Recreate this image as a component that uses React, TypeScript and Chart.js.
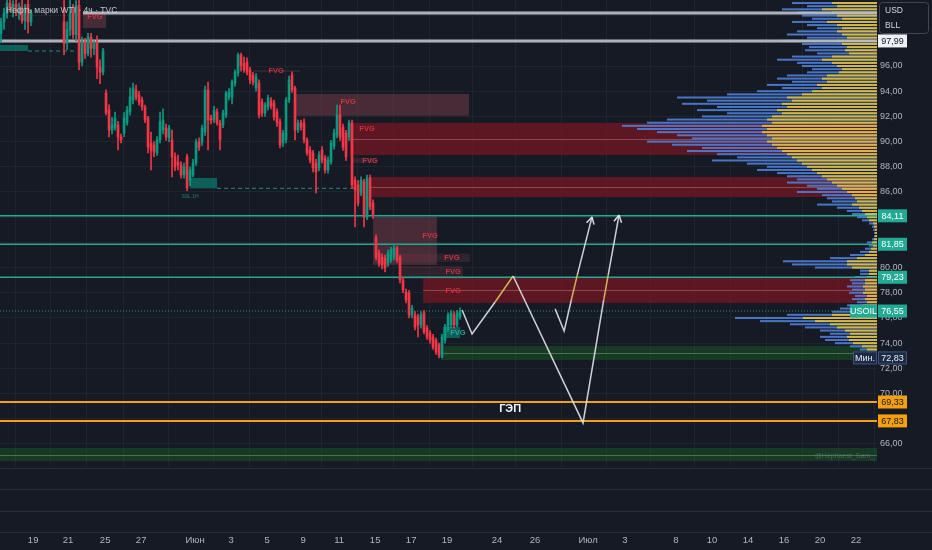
import React, { useEffect, useRef } from "react";
import { Chart, registerables } from "chart.js";
Chart.register(...registerables);

const TITLE = "Нефть марки WTI · 4ч · TVC";
const BG = "#161a25";
const UP = "#089981";
const DOWN = "#f23645";
const TEAL = "#22ab94";
const ORANGE = "#f5a00f";
const WHITE_LINE = "#f4f5f8";
const X_MIN = -0.35;
const X_MAX = 292;
const Y_MIN = 64.25;
const Y_MAX = 101.24;

// 4h candles [open, high, low, close]; null = no bar
const candles: ([number, number, number, number] | null)[] = [
  [98.6, 99.8, 97.9, 99.5], [99.5, 100.6, 98.9, 100.2], [100.2, 101.5, 99.8, 101.0], [101.0, 101.6, 100.3, 100.6],
  [100.6, 101.2, 99.9, 100.9], [100.9, 101.6, 100.0, 100.3], [100.3, 101.0, 99.7, 100.5], [100.5, 101.4, 99.4, 99.6],
  [99.6, 100.9, 98.9, 100.7], [100.9, 101.4, 98.6, 99.5], [99.5, 100.5, 99.2, 100.2],
  null, null, null, null, null, null, null, null, null, null,
  [99.5, 101.3, 96.9, 97.8], [97.8, 99.5, 97.3, 98.9], [98.9, 101.3, 98.4, 100.2], [100.2, 100.9, 98.2, 98.5],
  [98.5, 101.2, 98.0, 100.8], [100.8, 101.3, 95.7, 96.3], [96.3, 98.3, 96.0, 97.9], [97.9, 98.2, 96.6, 97.0],
  [97.0, 98.6, 96.8, 98.3], [98.3, 98.6, 96.7, 97.4], [97.4, 98.0, 96.9, 97.8], [97.8, 98.4, 95.0, 95.9],
  [95.9, 96.5, 94.6, 95.5], [95.5, 97.4, 95.3, 97.2],
  [93.86, 94.1, 92.11, 92.27], [92.51, 92.91, 90.37, 90.92], [90.92, 91.9, 90.6, 91.32], [91.08, 92.35, 90.9, 91.87],
  [91.32, 91.6, 89.33, 90.37], [90.37, 90.6, 89.9, 90.13], [90.68, 92.3, 90.4, 91.87], [91.48, 92.8, 91.3, 92.51],
  [92.35, 94.26, 92.1, 93.54], [93.3, 94.65, 93.0, 94.26], [94.1, 94.49, 93.3, 93.54], [93.7, 94.0, 92.9, 93.14],
  [93.3, 93.54, 92.5, 92.75], [92.75, 92.9, 91.5, 91.71], [91.87, 92.0, 89.1, 89.57], [89.89, 90.76, 87.75, 89.33],
  [89.73, 90.0, 88.8, 89.18], [89.1, 90.4, 88.9, 90.13], [90.13, 92.35, 89.9, 91.56], [90.92, 92.6, 90.6, 91.71],
  [91.08, 91.4, 90.1, 90.37], [90.29, 91.3, 90.0, 91.08], [90.13, 90.92, 87.19, 88.78], [88.78, 89.1, 87.7, 87.99],
  [88.38, 88.94, 87.75, 88.14], [88.14, 88.4, 87.1, 87.35], [87.35, 88.3, 87.1, 87.99], [88.78, 89.0, 86.1, 86.32],
  [86.95, 88.0, 86.5, 87.75], [87.35, 88.6, 87.2, 88.3], [88.3, 90.2, 88.1, 89.97], [89.97, 90.3, 89.3, 89.57],
  [89.97, 91.32, 89.7, 91.08], [90.76, 94.4, 90.5, 94.1], [94.1, 94.73, 89.33, 91.71], [91.87, 92.1, 91.4, 91.71],
  [91.71, 92.8, 91.5, 92.51], [92.35, 92.6, 91.3, 91.48], [91.48, 91.7, 89.33, 90.13], [91.32, 92.5, 91.1, 92.27],
  [92.11, 94.0, 91.9, 93.86], [93.54, 94.2, 93.3, 93.94], [93.54, 94.9, 93.0, 94.73], [94.65, 95.7, 94.4, 95.53],
  [95.45, 97.03, 95.2, 96.87], [96.87, 97.03, 95.6, 96.0], [96.2, 96.7, 95.5, 95.7], [96.3, 96.64, 95.3, 95.5],
  [95.68, 95.9, 94.6, 94.89], [95.29, 95.5, 94.5, 94.73], [94.26, 95.4, 94.0, 95.13], [94.65, 94.9, 91.87, 92.11],
  [93.14, 93.4, 92.0, 92.27], [92.27, 93.1, 92.0, 92.91], [92.75, 93.7, 92.5, 93.46], [93.22, 93.5, 92.6, 92.83],
  [93.06, 93.3, 91.7, 91.95], [92.35, 92.6, 91.2, 91.48], [91.56, 91.8, 89.5, 89.73], [89.89, 90.9, 89.6, 90.68],
  [90.13, 93.5, 89.9, 93.3], [93.3, 95.2, 93.1, 94.89], [95.29, 95.53, 93.9, 94.1], [94.26, 94.4, 90.13, 90.92],
  [90.92, 91.7, 90.7, 91.48], [91.48, 91.7, 90.9, 91.16], [91.48, 91.8, 89.9, 90.13], [90.13, 90.3, 88.9, 89.1],
  [89.33, 89.6, 88.3, 88.54], [89.1, 89.3, 87.6, 87.91], [88.3, 88.6, 85.92, 87.59], [87.91, 89.2, 87.7, 88.94],
  [89.33, 89.6, 88.3, 88.54], [88.7, 88.9, 87.5, 87.75], [87.75, 88.8, 87.5, 88.54], [88.38, 90.1, 88.2, 89.89],
  [89.65, 91.0, 89.4, 90.68], [90.52, 92.9, 90.3, 92.11], [92.11, 92.9, 90.1, 90.37], [91.16, 91.4, 89.3, 89.57],
  [90.68, 90.9, 88.5, 88.78], [90.37, 91.7, 90.1, 91.48], [91.48, 91.7, 86.3, 86.56], [86.95, 87.2, 83.22, 86.16],
  [86.56, 86.9, 84.9, 85.13], [85.92, 87.2, 85.7, 86.95], [86.8, 87.0, 83.22, 84.02], [84.02, 87.35, 83.8, 87.11],
  [87.11, 87.35, 84.6, 84.81], [85.13, 85.37, 83.9, 84.18], [82.35, 82.6, 80.6, 80.84], [81.16, 81.4, 80.1, 80.37],
  [80.84, 81.1, 79.9, 80.21], [80.76, 81.0, 79.65, 79.97], [80.37, 81.4, 80.1, 81.16], [80.6, 81.6, 80.4, 81.4],
  [80.84, 81.87, 80.6, 81.56], [81.56, 81.7, 80.4, 80.6], [80.84, 81.0, 78.78, 79.02], [79.02, 79.2, 78.0, 78.22],
  [78.06, 78.3, 77.2, 77.43], [77.98, 78.2, 76.0, 76.24], [76.24, 77.0, 76.0, 76.79], [76.24, 76.5, 75.05, 75.29],
  [76.08, 76.3, 74.49, 75.45], [75.45, 76.5, 75.2, 76.24], [76.4, 76.6, 74.73, 74.89], [75.21, 75.4, 74.3, 74.49],
  [74.81, 75.0, 74.0, 74.25], [74.49, 74.7, 73.5, 73.7], [74.25, 74.4, 73.1, 73.3], [73.86, 74.0, 72.83, 73.06],
  [72.9, 74.7, 72.83, 74.49], [74.25, 75.5, 74.0, 75.29], [75.05, 76.4, 74.9, 76.24], [75.45, 76.6, 75.2, 76.4],
  [76.24, 76.5, 75.2, 75.45], [75.45, 76.6, 75.3, 76.4], [76.1, 76.8, 75.9, 76.55],
];

// time axis
const tickBars = [10.7, 22.3, 34.7, 46.7, 64.7, 76.7, 88.7, 100.7, 112.7, 124.7, 136.7, 148.7, 165.3, 178, 195.7, 208, 225, 237, 249, 261, 273, 285];
const tickLabels = ["19", "21", "25", "27", "Июн", "3", "5", "9", "11", "15", "17", "19", "24", "26", "Июл", "3", "8", "10", "14", "16", "20", "22"];
const priceTicks = [66, 68, 70, 72, 74, 76, 78, 80, 82, 84, 86, 88, 90, 92, 94, 96, 98, 100];

// levels
const tealLevels = [84.11, 81.85, 79.23];
const orangeLevels = [69.33, 67.83];
const whiteLevels = [100.21, 97.99];
const whiteStarts = [27.3, X_MIN];
const lastPrice = 76.55;
const lowPrice = 72.83;
const dashPrices = [97.19, 86.29];
const dashStarts = [9, 72];
const dashEnds = [25.3, 118];

// zones [barStart, barEnd, priceLow, priceHigh]
const redZones = [[116.3, X_MAX, 88.94, 91.48], [122.7, X_MAX, 85.6, 87.19], [140.7, X_MAX, 77.19, 79.18]];
const redMids = [90.21, 86.4, 78.22];
const fvgBoxes = [[27.3, 35, 99.02, 100.21], [98, 156, 92.05, 93.78], [124, 145.3, 80.21, 84.02]];
const fvgFaint = [[84, 99.7, 95.52, 95.68], [117, 125, 88.3, 88.7], [133, 156.3, 80.45, 81.1], [133, 154, 79.1, 80.13]];
const greenZones = [[146.7, X_MAX, 72.67, 73.78], [X_MIN, X_MAX, 64.65, 65.68]];
const greenMids = [73.22, 65.13];
const tealBoxes = [[X_MIN, 9, 97.19, 97.67], [63, 72, 86.29, 87.11], [147.3, 153, 74.41, 75.29]];

// labels [bar, price]
const fvgRedLabels = [[31.3, 99.89], [91.7, 95.6], [115.7, 93.14], [122, 91.0], [123, 88.46], [143, 82.51], [150.3, 80.76], [150.7, 79.65], [150.7, 78.14]];
const fvgTealLabels = [[152.3, 74.81]];
const gapLabel = { text: "ГЭП", bar: 169.7, price: 68.78 };

// projected paths
const path1Bars = [153.7, 157, 164.7, 170.7, 194, 200.9, 202.4, 206];
const path1Prices = [76.64, 74.73, 77.27, 79.33, 67.67, 77.43, 79.42, 84.17];
const path1Yellow = [0, 0, 1, 0, 0, 1, 0];
const path2Bars = [184.7, 187.7, 190.1, 192.1, 197];
const path2Prices = [76.72, 74.97, 77.43, 79.42, 84.02];
const path2Yellow = [0, 0, 1, 0];

// volume profile rows
const profilePrices = [
  73, 73.25, 73.5, 73.75, 74, 74.25, 74.5, 74.75, 75, 75.25, 75.5, 75.75, 76, 76.25, 76.5, 76.75,
  77, 77.25, 77.5, 77.75, 78, 78.25, 78.5, 78.75, 79, 79.25, 79.5, 79.75, 80, 80.25, 80.5, 80.75,
  81, 81.25, 81.5, 81.75, 82, 82.25, 82.5, 82.75, 83, 83.25, 83.5, 83.75, 84, 84.25, 84.5, 84.75,
  85, 85.25, 85.5, 85.75, 86, 86.25, 86.5, 86.75, 87, 87.25, 87.5, 87.75, 88, 88.25, 88.5, 88.75,
  89, 89.25, 89.5, 89.75, 90, 90.25, 90.5, 90.75, 91, 91.25, 91.5, 91.75, 92, 92.25, 92.5, 92.75,
  93, 93.25, 93.5, 93.75, 94, 94.25, 94.5, 94.75, 95, 95.25, 95.5, 95.75, 96, 96.25, 96.5, 96.75,
  97, 97.25, 97.5, 97.75, 98, 98.25, 98.5, 98.75, 99, 99.25, 99.5, 99.75, 100, 100.25, 100.5, 100.75, 101,
];
const profileTotal = [
  4, 7, 17, 27, 42, 52, 57, 47, 57, 72, 87, 117, 142, 90, 45, 37,
  30, 20, 25, 22, 28, 25, 30, 25, 27, 22, 17, 17, 62, 85, 94, 47,
  27, 17, 12, 8, 10, 5, 3, 3, 4, 5, 8, 15, 20, 25, 30, 40,
  60, 45, 50, 55, 80, 60, 70, 90, 80, 90, 100, 120, 110, 130, 165, 140,
  160, 190, 175, 205, 230, 185, 200, 220, 240, 255, 230, 210, 175, 150, 180, 160,
  195, 170, 200, 150, 120, 95, 110, 85, 100, 90, 70, 65, 75, 80, 100, 85,
  60, 72, 68, 75, 95, 70, 90, 80, 60, 70, 85, 65, 75, 80, 95, 70, 85,
];
const profileUp = [
  2, 4, 10, 15, 24, 28, 30, 27, 32, 40, 47, 62, 74, 45, 22, 18,
  15, 10, 12, 10, 14, 12, 14, 12, 12, 10, 8, 8, 25, 30, 30, 20,
  12, 8, 6, 4, 5, 3, 2, 2, 2, 3, 4, 8, 10, 12, 15, 18,
  25, 20, 22, 25, 30, 35, 40, 45, 50, 55, 60, 65, 70, 75, 80, 85,
  90, 95, 100, 105, 110, 105, 110, 115, 110, 115, 105, 110, 105, 95, 100, 90,
  95, 85, 90, 75, 65, 55, 60, 50, 55, 50, 38, 35, 40, 45, 55, 45,
  28, 32, 30, 35, 40, 30, 35, 40, 35, 40, 50, 35, 40, 45, 55, 40, 45,
];

const fmt = (v: number) => v.toFixed(2).replace(".", ",");
const FONT = '"Liberation Sans", "DejaVu Sans", sans-serif';

const overlay = {
  id: "overlay",
  beforeDraw(chart: any) {
    const { ctx, width, height } = chart;
    ctx.save();
    ctx.fillStyle = BG;
    ctx.fillRect(0, 0, width, height);
    ctx.restore();
  },
  beforeDatasetsDraw(chart: any) {
    const { ctx, chartArea: a } = chart;
    const xs = chart.scales.x, ys = chart.scales.y, xv = chart.scales.xv;
    const rect = (z: number[], fill: string) => {
      const x0 = xs.getPixelForValue(z[0]), x1 = xs.getPixelForValue(z[1]);
      const y0 = ys.getPixelForValue(z[3]), y1 = ys.getPixelForValue(z[2]);
      ctx.fillStyle = fill;
      ctx.fillRect(x0, y0, x1 - x0, y1 - y0);
    };
    const mid = (z: number[], p: number, col: string) => {
      const y = Math.round(ys.getPixelForValue(p)) + 0.5;
      ctx.strokeStyle = col;
      ctx.lineWidth = 1;
      ctx.beginPath();
      ctx.moveTo(xs.getPixelForValue(z[0]), y);
      ctx.lineTo(xs.getPixelForValue(z[1]), y);
      ctx.stroke();
    };
    ctx.save();
    ctx.beginPath();
    ctx.rect(a.left, a.top, a.right - a.left, a.bottom - a.top);
    ctx.clip();
    fvgFaint.forEach((z) => rect(z, "rgba(120,60,72,0.28)"));
    fvgBoxes.forEach((z) => rect(z, "rgba(120,60,72,0.5)"));
    redZones.forEach((z, k) => { rect(z, "rgba(125,22,34,0.68)"); mid(z, redMids[k], "rgba(210,130,140,0.45)"); });
    greenZones.forEach((z, k) => { rect(z, "rgba(30,110,40,0.38)"); mid(z, greenMids[k], "rgba(130,180,140,0.45)"); });
    tealBoxes.forEach((z) => rect(z, "rgba(8,140,120,0.62)"));
    // volume profile
    for (let k = 0; k < profilePrices.length; k++) {
      const yc = ys.getPixelForValue(profilePrices[k]);
      const xr = xv.getPixelForValue(0);
      const xl = xv.getPixelForValue(profileTotal[k]);
      const xu = xv.getPixelForValue(profileUp[k]);
      ctx.fillStyle = "rgba(78,128,214,0.9)";
      ctx.fillRect(xl, yc - 1, xr - xl, 2);
      ctx.fillStyle = "rgba(222,190,62,0.92)";
      ctx.fillRect(xu, yc - 1, xr - xu, 2);
    }
    ctx.restore();
  },
  afterDatasetsDraw(chart: any) {
    const { ctx, chartArea: a } = chart;
    const xs = chart.scales.x, ys = chart.scales.y;
    ctx.save();
    // arrow heads
    chart.data.datasets.forEach((ds: any, di: number) => {
      if (!ds.arrow) return;
      const pts = chart.getDatasetMeta(di).data;
      const p1 = pts[pts.length - 1], p0 = pts[pts.length - 2];
      const ang = Math.atan2(p1.y - p0.y, p1.x - p0.x);
      ctx.strokeStyle = "rgba(225,228,235,0.95)";
      ctx.lineWidth = 1.5;
      ctx.beginPath();
      for (const s of [-1, 1]) {
        ctx.moveTo(p1.x, p1.y);
        ctx.lineTo(p1.x - 8 * Math.cos(ang + s * 0.5), p1.y - 8 * Math.sin(ang + s * 0.5));
      }
      ctx.stroke();
    });
    // FVG labels
    ctx.font = `bold 7.5px ${FONT}`;
    ctx.textAlign = "center";
    ctx.textBaseline = "middle";
    ctx.fillStyle = "rgba(242,54,69,0.8)";
    fvgRedLabels.forEach((l) => ctx.fillText("FVG", xs.getPixelForValue(l[0]), ys.getPixelForValue(l[1])));
    ctx.fillStyle = "#26a69a";
    fvgTealLabels.forEach((l) => ctx.fillText("FVG", xs.getPixelForValue(l[0]), ys.getPixelForValue(l[1])));
    // SSL tiny label
    ctx.font = `5px ${FONT}`;
    ctx.fillStyle = "rgba(38,166,154,0.7)";
    ctx.fillText("SSL.1H", xs.getPixelForValue(63), ys.getPixelForValue(85.6));
    // gap label
    ctx.font = `bold 11px ${FONT}`;
    ctx.fillStyle = "#f0f3fa";
    ctx.fillText(gapLabel.text, xs.getPixelForValue(gapLabel.bar), ys.getPixelForValue(gapLabel.price));
    // watermark
    ctx.font = `7px ${FONT}`;
    ctx.textAlign = "right";
    ctx.fillStyle = "rgba(160,165,180,0.35)";
    ctx.fillText("@Hephaest_Sam_", a.right - 3, ys.getPixelForValue(65.0));
    // title
    ctx.font = `8.5px ${FONT}`;
    ctx.textAlign = "left";
    ctx.fillStyle = "rgba(205,208,216,0.92)";
    ctx.fillText(TITLE, a.left + 6, a.top + 11);
    ctx.restore();
  },
  afterDraw(chart: any) {
    const { ctx, chartArea: a, width } = chart;
    const ys = chart.scales.y;
    ctx.save();
    // lower empty panes
    ctx.strokeStyle = "#2a2e39";
    ctx.lineWidth = 1;
    for (const off of [2, 23, 45, 66]) {
      const y = Math.round(a.bottom + off) + 0.5;
      ctx.beginPath();
      ctx.moveTo(0, y);
      ctx.lineTo(width, y);
      ctx.stroke();
    }
    const ax = ys.left + 1;
    const badge = (x: number, p: number, w: number, text: string, bg: string, fg: string, border?: string) => {
      const y = ys.getPixelForValue(p);
      ctx.fillStyle = bg;
      ctx.fillRect(x, y - 6.5, w, 13);
      if (border) {
        ctx.strokeStyle = border;
        ctx.lineWidth = 1;
        ctx.strokeRect(x + 0.5, y - 6, w - 1, 12);
      }
      ctx.fillStyle = fg;
      ctx.font = `9px ${FONT}`;
      ctx.textAlign = "center";
      ctx.textBaseline = "middle";
      ctx.fillText(text, x + w / 2, y + 0.5);
    };
    badge(ax, whiteLevels[1], 29, fmt(whiteLevels[1]), "#eef0f5", "#131722");
    tealLevels.forEach((p) => badge(ax, p, 29, fmt(p), TEAL, "#ffffff"));
    badge(ax - 28, lastPrice, 27, "USOIL", TEAL, "#ffffff");
    badge(ax, lastPrice, 29, fmt(lastPrice), TEAL, "#ffffff");
    badge(ax - 25, lowPrice, 24, "Мин.", "#1b2b45", "#e8ecf5", "#3d5377");
    badge(ax, lowPrice, 29, fmt(lowPrice), "#1b2b45", "#e8ecf5", "#3d5377");
    orangeLevels.forEach((p) => badge(ax, p, 29, fmt(p), ORANGE, "#131722"));
    // currency / unit box
    ctx.fillStyle = BG;
    ctx.strokeStyle = "#434651";
    ctx.lineWidth = 1;
    ctx.beginPath();
    ctx.roundRect(ys.left + 2.5, 2.5, 49, 31, 3);
    ctx.fill();
    ctx.stroke();
    ctx.fillStyle = "#d1d4dc";
    ctx.font = `8.5px ${FONT}`;
    ctx.textAlign = "left";
    ctx.textBaseline = "middle";
    ctx.fillText("USD", ys.left + 8, 11);
    ctx.fillText("BLL", ys.left + 8, 26);
    ctx.restore();
  },
};

export default function App() {
  const ref = useRef<HTMLCanvasElement>(null);
  useEffect(() => {
    document.body.style.margin = "0";
    document.body.style.background = BG;
    const wick: any[] = [], body: any[] = [], cols: string[] = [];
    candles.forEach((c, i) => {
      if (!c) return;
      wick.push({ x: i, y: [c[2], c[1]] });
      body.push({ x: i, y: [Math.min(c[0], c[3]), Math.max(c[0], c[3])] });
      cols.push(c[3] >= c[0] ? UP : DOWN);
    });
    const hline = (p: number, x0: number, x1: number) => [{ x: x0, y: p }, { x: x1, y: p }];
    const lineDs = (data: any[], color: string, w: number, dash: number[] = [], order = 5) => ({
      type: "line", data, borderColor: color, borderWidth: w, borderDash: dash,
      pointRadius: 0, fill: false, tension: 0, order,
    });
    const datasets: any[] = [];
    tealLevels.forEach((p) => datasets.push(lineDs(hline(p, X_MIN, X_MAX), TEAL, 1.5)));
    orangeLevels.forEach((p) => datasets.push(lineDs(hline(p, X_MIN, X_MAX), ORANGE, 2)));
    whiteLevels.forEach((p, k) => {
      datasets.push(lineDs(hline(p, whiteStarts[k], X_MAX), "rgba(170,173,182,0.75)", 3.5));
      datasets.push(lineDs(hline(p, whiteStarts[k], X_MAX), WHITE_LINE, 1.6));
    });
    datasets.push(lineDs(hline(lastPrice, X_MIN, X_MAX), "rgba(34,171,148,0.85)", 1, [1, 2]));
    dashPrices.forEach((p, k) => datasets.push(lineDs(hline(p, dashStarts[k], dashEnds[k]), "rgba(34,171,148,0.8)", 1, [4, 3])));
    datasets.push({ type: "bar", data: wick, backgroundColor: cols, barThickness: 1, grouped: false, order: 3, borderWidth: 0 });
    datasets.push({ type: "bar", data: body, backgroundColor: cols, barThickness: 2, grouped: false, order: 2, borderWidth: 0, minBarLength: 1 });
    const path = (bars: number[], prices: number[], yel: number[]) => ({
      type: "line",
      data: bars.map((b, k) => ({ x: b, y: prices[k] })),
      borderColor: "rgba(225,228,235,0.9)",
      borderWidth: 1.5,
      pointRadius: 0,
      fill: false,
      tension: 0,
      order: 1,
      arrow: true,
      segment: { borderColor: (c: any) => (yel[c.p0DataIndex] ? "rgba(214,190,90,0.95)" : "rgba(225,228,235,0.9)") },
    });
    datasets.push(path(path1Bars, path1Prices, path1Yellow));
    datasets.push(path(path2Bars, path2Prices, path2Yellow));

    const grid = "rgba(42,46,57,0.55)";
    const chart = new Chart(ref.current as HTMLCanvasElement, {
      type: "line",
      data: { datasets },
      options: {
        animation: false,
        responsive: true,
        maintainAspectRatio: false,
        events: [],
        layout: { padding: 0 },
        plugins: { legend: { display: false }, tooltip: { enabled: false } },
        scales: {
          x: {
            type: "linear",
            min: X_MIN,
            max: X_MAX,
            offset: false,
            grid: { color: grid, drawTicks: false },
            border: { display: false },
            afterBuildTicks: (s: any) => { s.ticks = tickBars.map((v) => ({ value: v })); },
            afterFit: (s: any) => { s.height = 84; s.paddingLeft = 0; s.paddingRight = 0; },
            ticks: {
              autoSkip: false, maxRotation: 0, minRotation: 0, padding: 69,
              color: "#b2b5be", font: { size: 9.5, family: FONT },
              callback: (_v: any, i: number) => tickLabels[i],
            },
          },
          xv: { axis: "x", type: "linear", display: false, reverse: true, min: 0, max: 877, position: "top" },
          y: {
            type: "linear",
            position: "right",
            min: Y_MIN,
            max: Y_MAX,
            grid: { color: grid, drawTicks: false },
            border: { display: false },
            afterBuildTicks: (s: any) => { s.ticks = priceTicks.map((v) => ({ value: v })); },
            afterFit: (s: any) => { s.width = 55; s.paddingTop = 0; s.paddingBottom = 0; },
            ticks: {
              padding: 3, color: "#b2b5be", font: { size: 9, family: FONT },
              callback: (v: any) => fmt(Number(v)),
            },
          },
        },
      } as any,
      plugins: [overlay as any],
    } as any);
    return () => chart.destroy();
  }, []);
  return (
    <div style={{ width: 932, height: 550, position: "relative", background: BG }}>
      <canvas ref={ref} />
    </div>
  );
}
